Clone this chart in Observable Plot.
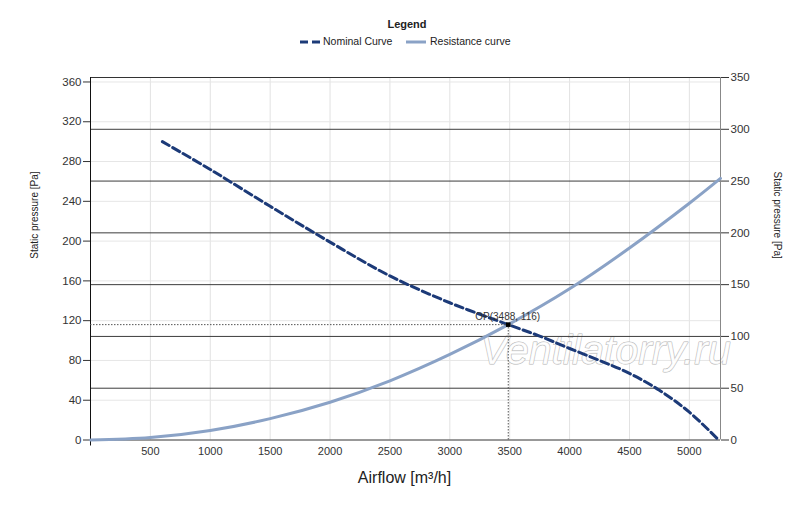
<!DOCTYPE html>
<html>
<head>
<meta charset="utf-8">
<script src="https://cdn.jsdelivr.net/npm/d3@7"></script>
<script src="https://cdn.jsdelivr.net/npm/@observablehq/plot@0.6"></script>
<style>
  body { margin: 0; background: #fff; font-family: "Liberation Sans", Arial, sans-serif; }
  #legend { position: relative; width: 800px; height: 60px; color: #222; }
  #legend .title { position: absolute; left: 0; width: 814px; top: 18px; text-align: center; font-weight: bold; font-size: 11px; }
  #legend .item { position: absolute; top: 34px; font-size: 10.5px; line-height: 14px; white-space: nowrap; }
  #legend svg { position: absolute; top: 39px; }
  #chart svg { display: block; }
</style>
</head>
<body>
<div id="legend">
  <div class="title">Legend</div>
  <svg style="left:299px" width="22" height="6"><line x1="1" y1="3" x2="21" y2="3" stroke="#1c3a78" stroke-width="3" stroke-dasharray="8,4"/></svg>
  <div class="item" style="left:323px">Nominal Curve</div>
  <svg style="left:405px" width="22" height="6"><line x1="1" y1="3" x2="21" y2="3" stroke="#8aa2c6" stroke-width="3"/></svg>
  <div class="item" style="left:430px">Resistance curve</div>
</div>
<div id="chart"></div>
<script>
// ---- data ----
const xTicks = [500, 1000, 1500, 2000, 2500, 3000, 3500, 4000, 4500, 5000];
const leftTicks = [0, 40, 80, 120, 160, 200, 240, 280, 320, 360];
const rightTicks = [0, 50, 100, 150, 200, 250, 300, 350];
const xMax = 5260;
const leftMax = 364.5;
const rightMax = 350;

const nominalQ = [600, 1000, 1500, 2000, 2500, 3000, 3488, 3750, 4000, 4250, 4500, 4750, 5000, 5245];
const nominalP = [300, 272, 235, 199, 165, 138, 116, 104.5, 92, 80, 67, 50, 28, 0];

const resistQ = [0, 500, 1000, 1500, 2000, 2500, 3000, 3488, 4000, 4500, 5000, 5260];
const resistP = [0, 2.4, 9.5, 21.5, 38, 59.5, 86, 116, 152, 193, 238, 263];

const opQ = 3488;
const opP = 116;
const opLabel = "OP(3488, 116)";
const watermark = "Ventilatorry.ru";

// ---- tables ----
const nominal = nominalQ.map((q, i) => ({q, p: nominalP[i]}));
const resist = resistQ.map((q, i) => ({q, p: resistP[i]}));
const op = [{q: opQ, p: opP, label: opLabel}];
const k = leftMax / rightMax; // right-axis units -> left-axis units

const chart = Plot.plot({
  width: 800,
  height: 447,
  marginTop: 17,
  marginBottom: 67.5,
  marginLeft: 90,
  marginRight: 80,
  style: {fontFamily: "'Liberation Sans', Arial, sans-serif", background: "#fff"},
  x: {domain: [0, xMax]},
  y: {domain: [0, leftMax]},
  marks: [
    // light grid
    Plot.ruleX(xTicks, {stroke: "#e2e2e2", strokeWidth: 1}),
    Plot.ruleY(leftTicks.filter(d => d > 0), {stroke: "#e6e6e6", strokeWidth: 1}),
    // watermark
    Plot.text([watermark], {frameAnchor: "top-left", dx: 515, dy: 273, text: d => d, lineAnchor: "middle",
      fontSize: 41, fontStyle: "italic", fill: "white", fillOpacity: 0.85,
      stroke: "#b4b4b4", strokeWidth: 1, textAnchor: "middle"}),
    // dark grid (right-axis ticks)
    Plot.ruleY(rightTicks.filter(d => d > 0 && d < rightMax).map(r => r * k), {stroke: "#3c3c3c", strokeWidth: 1}),
    // frame
    Plot.ruleY([leftMax], {stroke: "#333"}),
    Plot.ruleX([xMax], {stroke: "#888"}),
    Plot.ruleY([0], {stroke: "#333"}),
    Plot.ruleX([0], {stroke: "#111"}),
    Plot.ruleX([0], {y1: 0, y2: 0, insetBottom: -6, stroke: "#111"}),
    // axes
    Plot.axisY(leftTicks, {anchor: "left", tickSize: 7, tickPadding: 2, fontSize: 11.5, label: null, color: "#333"}),
    Plot.axisY(rightTicks.map(r => r * k), {anchor: "right", tickSize: 8, tickPadding: 2, fontSize: 11.5,
      label: null, color: "#333", tickFormat: d => Math.round(d / k)}),
    Plot.axisX(xTicks, {tickSize: 0, tickPadding: 7, fontSize: 11, label: null, color: "#333", tickFormat: d => String(d)}),
    // axis titles
    Plot.text(["Static pressure [Pa]"], {frameAnchor: "left", dx: -56, text: d => d, rotate: -90, fontSize: 10, fill: "#222"}),
    Plot.text(["Static pressure [Pa]"], {frameAnchor: "right", dx: 57, text: d => d, rotate: 90, fontSize: 10, fill: "#222"}),
    Plot.text(["Airflow [m³/h]"], {frameAnchor: "bottom", lineAnchor: "middle", dy: 38, dx: -1, text: d => d, fontSize: 16, fill: "#222"}),
    // curves
    Plot.line(resist, {x: "q", y: "p", stroke: "#8aa2c6", strokeWidth: 3, curve: "catmull-rom"}),
    Plot.line(nominal, {x: "q", y: "p", stroke: "#1c3a78", strokeWidth: 3, strokeDasharray: "8,4", curve: "catmull-rom"}),
    // operating point
    Plot.ruleY(op, {y: "p", x1: 0, x2: "q", stroke: "#555", strokeDasharray: "1.5,1.5"}),
    Plot.ruleX(op, {x: "q", y1: 0, y2: "p", stroke: "#555", strokeDasharray: "1.5,1.5"}),
    Plot.dot(op, {x: "q", y: "p", symbol: "square", r: 2.6, fill: "black"}),
    Plot.text(op, {x: "q", y: "p", text: "label", textAnchor: "start", lineAnchor: "bottom", dx: -33, dy: -5, fontSize: 10, fill: "#333"})
  ]
});
document.getElementById("chart").appendChild(chart);
</script>
</body>
</html>
